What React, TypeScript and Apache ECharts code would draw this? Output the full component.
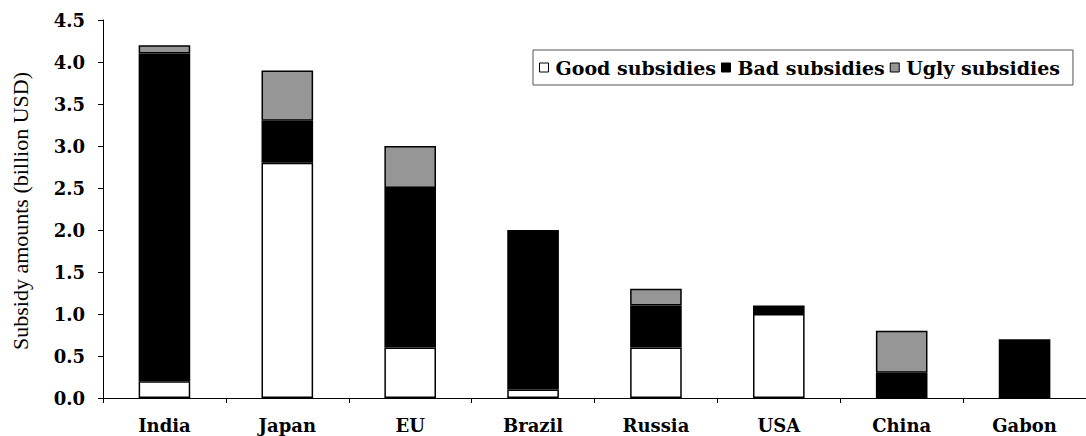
import React, { useEffect, useRef } from "react";
import * as echarts from "echarts";

const categories = ["India", "Japan", "EU", "Brazil", "Russia", "USA", "China", "Gabon"];
const goodSubsidies = [0.2, 2.8, 0.6, 0.1, 0.6, 1.0, 0, 0];
const badSubsidies = [3.9, 0.5, 1.9, 1.9, 0.5, 0.1, 0.3, 0.7];
const uglySubsidies = [0.1, 0.6, 0.5, 0, 0.2, 0, 0.5, 0];
const yTicks = ["0.0", "0.5", "1.0", "1.5", "2.0", "2.5", "3.0", "3.5", "4.0", "4.5"];
const yTitle = "Subsidy amounts (billion USD)";

const labelFont = "'DejaVu Serif', serif";

export default function App() {
  const ref = useRef<HTMLDivElement>(null);
  useEffect(() => {
    if (!ref.current) return;
    const chart = echarts.init(ref.current, undefined, { renderer: "svg" });
    const mk = (name: string, data: number[], color: string) => ({
      name,
      type: "bar",
      stack: "total",
      data: data.map((v) => (v === 0 ? "-" : v)),
      barWidth: "42%",
      itemStyle: { color, borderColor: "#000", borderWidth: 1.5 },
    });
    chart.setOption({
      animation: false,
      backgroundColor: "#fff",
      grid: { left: 103, right: -9, top: 20, bottom: 38 },
      legend: {
        left: 533,
        top: 50,
        orient: "horizontal",
        itemWidth: 9,
        itemHeight: 9,
        itemGap: 5,
        padding: [8, 13, 8, 6],
        borderColor: "#555",
        borderWidth: 1,
        icon: "rect",
        textStyle: { fontFamily: labelFont, fontWeight: "bold", fontSize: 19, color: "#000", padding: [0, 0, 0, 2] },
        data: [
          { name: "Good subsidies", itemStyle: { color: "#fff", borderColor: "#000", borderWidth: 1 } },
          { name: "Bad subsidies", itemStyle: { color: "#000", borderColor: "#000", borderWidth: 1 } },
          { name: "Ugly subsidies", itemStyle: { color: "#969696", borderColor: "#000", borderWidth: 1 } },
        ],
      },
      graphic: [
        {
          type: "text",
          x: 20,
          y: 211,
          rotation: Math.PI / 2,
          style: {
            text: yTitle,
            fontFamily: "'Liberation Serif', serif",
            fontSize: 22,
            fill: "#000",
            align: "center",
            verticalAlign: "middle",
          },
        },
      ],
      xAxis: {
        type: "category",
        data: categories,
        axisLine: { lineStyle: { color: "#000", width: 1 } },
        axisTick: { show: true, length: 5, lineStyle: { color: "#000" } },
        axisLabel: { fontFamily: labelFont, fontWeight: "bold", fontSize: 18, color: "#000", margin: 18 },
      },
      yAxis: {
        type: "value",
        min: 0,
        max: 4.5,
        interval: 0.5,
        splitLine: { show: false },
        axisLine: { show: true, lineStyle: { color: "#000", width: 1 } },
        axisTick: { show: true, length: 5, lineStyle: { color: "#000" } },
        axisLabel: {
          fontFamily: labelFont,
          fontWeight: "bold",
          fontSize: 18,
          color: "#000",
          margin: 18,
          formatter: (v: number) => yTicks[Math.round(v / 0.5)] ?? v.toFixed(1),
        },
      },
      series: [
        mk("Good subsidies", goodSubsidies, "#fff"),
        mk("Bad subsidies", badSubsidies, "#000"),
        mk("Ugly subsidies", uglySubsidies, "#969696"),
      ],
    });
    return () => chart.dispose();
  }, []);
  return (
    <div
      ref={ref}
      style={{ position: "fixed", left: 0, top: 0, width: 1086, height: 436, background: "#fff" }}
    />
  );
}
